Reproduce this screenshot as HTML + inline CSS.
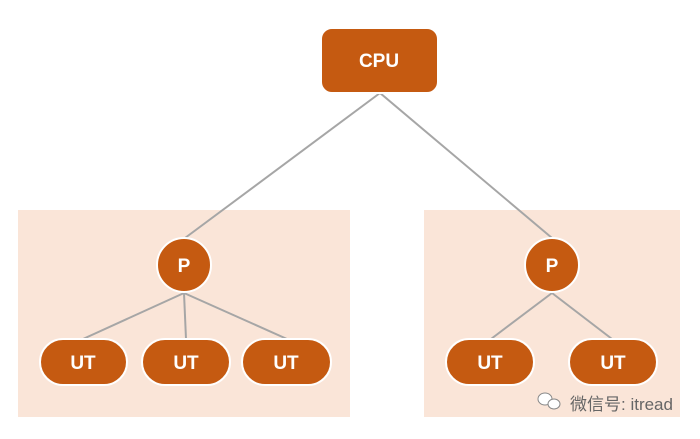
<!DOCTYPE html>
<html><head><style>
body{margin:0;width:700px;height:434px;background:#fff;overflow:hidden}
</style></head><body>
<svg width="700" height="434" xmlns="http://www.w3.org/2000/svg" font-family="Liberation Sans, sans-serif">
<rect x="18" y="210" width="332" height="207" fill="#fae5d8"/>
<rect x="424" y="210" width="256" height="207" fill="#fae5d8"/>
<g stroke="#a6a6a6" stroke-width="2">
<line x1="380" y1="93" x2="185" y2="238"/>
<line x1="380" y1="93" x2="552" y2="238"/>
<line x1="184" y1="293" x2="83" y2="339"/>
<line x1="184" y1="293" x2="186" y2="339"/>
<line x1="184" y1="293" x2="287" y2="339"/>
<line x1="552" y1="293" x2="491" y2="339"/>
<line x1="552" y1="293" x2="612" y2="339"/>
</g>
<g fill="#c55a11" stroke="#fff" stroke-width="2">
<rect x="321" y="28" width="117" height="65" rx="11"/>
<circle cx="184" cy="265" r="27"/>
<circle cx="552" cy="265" r="27"/>
<rect x="40" y="339" width="87" height="46" rx="23"/>
<rect x="142" y="339" width="88" height="46" rx="23"/>
<rect x="242" y="339" width="89" height="46" rx="23"/>
<rect x="446" y="339" width="88" height="46" rx="23"/>
<rect x="569" y="339" width="88" height="46" rx="23"/>
</g>
<g fill="#fff" font-size="19" font-weight="bold" text-anchor="middle">
<text x="379" y="67">CPU</text>
<text x="184" y="272">P</text>
<text x="552" y="272">P</text>
<text x="83" y="369">UT</text>
<text x="186" y="369">UT</text>
<text x="286" y="369">UT</text>
<text x="490" y="369">UT</text>
<text x="613" y="369">UT</text>
</g>
<g fill="#fff" stroke="#888" stroke-width="1">
<ellipse cx="545" cy="399" rx="7" ry="6"/>
<ellipse cx="554" cy="404" rx="6" ry="5"/>
</g>
<text x="570" y="410" font-size="17" fill="#666" font-family="Liberation Sans, Noto Sans CJK SC, sans-serif">微信号: itread</text>
</svg>
</body></html>
